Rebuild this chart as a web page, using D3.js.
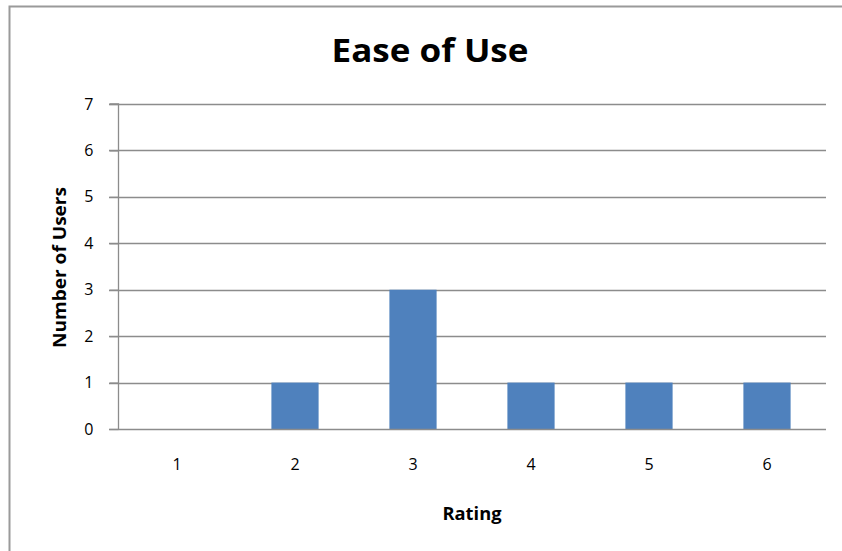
<!DOCTYPE html>
<html>
<head>
<meta charset="utf-8">
<script src="https://cdn.jsdelivr.net/npm/d3@7"></script>
<style>
  html, body { margin: 0; padding: 0; background: #fff; overflow: hidden; }
  svg { display: block; }
  text { font-family: "Open Sans", "Liberation Sans", sans-serif; fill: #000; }
</style>
</head>
<body>
<svg id="chart" width="842" height="551"></svg>
<script>
// Ratings and how many users gave each one
const ratings = ["1", "2", "3", "4", "5", "6"];
const userCounts = [0, 1, 3, 1, 1, 1];
const yTicks = [0, 1, 2, 3, 4, 5, 6, 7];

const chartTitle = "Ease of Use";
const xTitle = "Rating";
const yTitle = "Number of Users";

const svg = d3.select("#chart");
const plot = { left: 118, right: 826, top: 104, bottom: 429 };
const gridColor = "#8c8c8c";

// Chart-area frame (runs past the right and bottom edges)
svg.append("rect")
  .attr("x", 9.5).attr("y", 6.5)
  .attr("width", 860).attr("height", 560)
  .attr("fill", "#fff")
  .attr("stroke", "#9a9a9a").attr("stroke-width", 2);

const x = d3.scaleBand()
  .domain(ratings)
  .range([plot.left, plot.right])
  .paddingInner(0.6).paddingOuter(0.3);

const y = d3.scaleLinear()
  .domain([0, 7])
  .range([plot.bottom, plot.top]);

// Horizontal gridlines
svg.append("g")
  .selectAll("line")
  .data(yTicks.filter(d => d > 0))
  .join("line")
  .attr("x1", plot.left - 9).attr("x2", plot.right)
  .attr("y1", d => Math.round(y(d)) + 0.5)
  .attr("y2", d => Math.round(y(d)) + 0.5)
  .attr("stroke", gridColor).attr("stroke-width", 1.3);

// Bars
svg.append("g")
  .selectAll("rect")
  .data(ratings.map((r, i) => ({ r, v: userCounts[i] })))
  .join("rect")
  .attr("x", d => x(d.r))
  .attr("width", x.bandwidth())
  .attr("y", d => y(d.v))
  .attr("height", d => y(0) - y(d.v))
  .attr("fill", "#4f81bd");

// Y axis
const yAxis = svg.append("g")
  .attr("transform", `translate(${plot.left + 0.5},0)`)
  .call(d3.axisLeft(y).tickValues(yTicks).tickSize(9).tickPadding(16).tickFormat(d3.format("d")));
yAxis.selectAll("line, path").attr("stroke", gridColor).attr("stroke-width", 1.3);
yAxis.select(".domain").attr("d", `M-9,${y(7)}H0V${y(0)}`);
yAxis.selectAll("text")
  .attr("font-size", 16).attr("fill", "#111")
  .style("font-family", "'Open Sans', sans-serif");

// X axis (baseline only, labels below)
const xAxis = svg.append("g")
  .attr("transform", `translate(0,${Math.round(y(0)) + 0.5})`)
  .call(d3.axisBottom(x).tickSize(0));
xAxis.select(".domain").attr("d", `M${plot.left - 9},0H${plot.right}`)
  .attr("stroke", gridColor).attr("stroke-width", 1.3);
xAxis.selectAll("text")
  .attr("y", 40.5).attr("dy", 0)
  .attr("font-size", 16).attr("fill", "#111")
  .style("font-family", "'Open Sans', sans-serif");

// Titles
svg.append("text")
  .attr("x", 430).attr("y", 62)
  .attr("text-anchor", "middle")
  .attr("font-size", 33).attr("font-weight", "bold")
  .attr("textLength", 197).attr("lengthAdjust", "spacingAndGlyphs")
  .text(chartTitle);

svg.append("text")
  .attr("x", (plot.left + plot.right) / 2).attr("y", 520)
  .attr("text-anchor", "middle")
  .attr("font-size", 17).attr("font-weight", "bold")
  .attr("textLength", 59).attr("lengthAdjust", "spacingAndGlyphs")
  .text(xTitle);

svg.append("text")
  .attr("transform", "translate(66,267.5) rotate(-90)")
  .attr("text-anchor", "middle")
  .attr("font-size", 17).attr("font-weight", "bold")
  .attr("textLength", 161).attr("lengthAdjust", "spacingAndGlyphs")
  .text(yTitle);
</script>
</body>
</html>
